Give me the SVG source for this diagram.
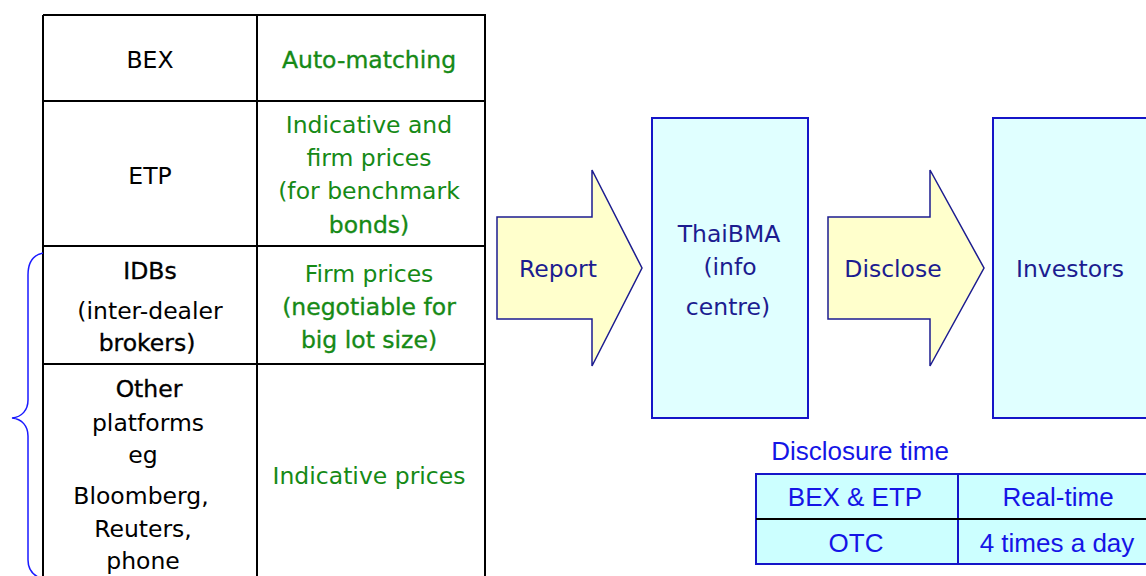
<svg xmlns="http://www.w3.org/2000/svg" width="1146" height="576" viewBox="0 0 1146 576">
<style>
.t{font-family:"DejaVu Sans",Verdana,sans-serif;font-size:23.5px;text-anchor:middle}
.k{fill:#000}
.g{fill:#168a16}
.em{stroke-width:0.35px}
.k.em{stroke:#000}
.g.em{stroke:#168a16}
.n{fill:#1c1c90}
.a{font-family:"Liberation Sans",Arial,sans-serif;font-size:26px;text-anchor:middle;fill:#1515e6}
.grid{stroke:#000;stroke-width:2;fill:none}
.arrow{fill:#ffffcc;stroke:#1c1c90;stroke-width:1.5}
.box{fill:#e0ffff;stroke:#1515c8;stroke-width:2}
</style>
<rect width="1146" height="576" fill="#fff"/>
<g id="price-table">
<path class="grid" d="M43,15 H485 V580 M43,15 V580 M257,15 V580 M43,101 H485 M43,246 H485 M43,364 H485"/>
<text class="t k" x="150" y="68">BEX</text>
<text class="t g em" x="369" y="68">Auto-matching</text>
<text class="t k" x="150" y="184">ETP</text>
<text class="t g" x="369" y="133">Indicative and</text>
<text class="t g" x="369" y="166">firm prices</text>
<text class="t g" x="369" y="199">(for benchmark</text>
<text class="t g em" x="369" y="233">bonds)</text>
<text class="t k em" x="150" y="279">IDBs</text>
<text class="t k" x="150" y="319">(inter-dealer</text>
<text class="t k em" x="147" y="351">brokers)</text>
<text class="t g" x="369" y="282">Firm prices</text>
<text class="t g em" x="369" y="315">(negotiable for</text>
<text class="t g em" x="369" y="348">big lot size)</text>
<text class="t k em" x="149" y="397">Other</text>
<text class="t k" x="148" y="431">platforms</text>
<text class="t k" x="143" y="463">eg</text>
<text class="t k" x="141" y="504">Bloomberg,</text>
<text class="t k" x="143" y="537">Reuters,</text>
<text class="t k" x="143" y="569">phone</text>
<text class="t g" x="369" y="484">Indicative prices</text>
</g>
<g id="brace">
<path d="M43,253 C33,255 28,262 28,275 L28,400 C28,410 22,417 12,418 C22,419 28,426 28,436 L28,560 C28,570 33,576 43,579" fill="none" stroke="#1a1aff" stroke-width="1.5"/>
</g>
<g id="thaibma">
<rect class="box" x="652" y="118" width="156" height="300"/>
<text class="t n" x="729" y="242">ThaiBMA</text>
<text class="t n" x="730" y="275">(info</text>
<text class="t n" x="728" y="315">centre)</text>
</g>
<g id="investors">
<rect class="box" x="993" y="118" width="160" height="300"/>
<text class="t n" x="1070" y="277">Investors</text>
</g>
<g id="connectors">
<g id="report">
<path class="arrow" d="M497,217 H592 V170 L642,268 L592,366 V319 H497 Z"/>
<text class="t n" x="558" y="277">Report</text>
</g>
<g id="disclose">
<path class="arrow" d="M828,217 H930 V170 L984,268 L930,366 V319 H828 Z"/>
<text class="t n" x="893" y="277">Disclose</text>
</g>
</g>
<g id="disclosure-time">
<text class="a" x="860" y="460">Disclosure time</text>
<rect x="756" y="474" width="400" height="90" fill="#ccffff" stroke="#1515c8" stroke-width="2"/>
<path d="M958,474 V564" stroke="#1515c8" stroke-width="2"/>
<path d="M756,519 H1156" stroke="#000" stroke-width="2"/>
<text class="a" x="855" y="506">BEX &amp; ETP</text>
<text class="a" x="1058" y="506">Real-time</text>
<text class="a" x="856" y="552">OTC</text>
<text class="a" x="1057" y="552">4 times a day</text>
</g>
</svg>
